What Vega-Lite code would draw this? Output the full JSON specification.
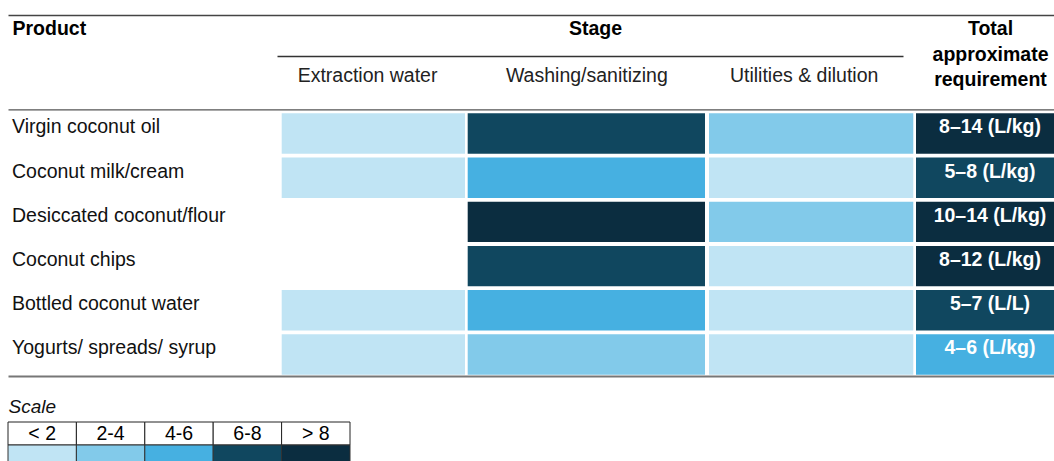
{
  "$schema": "https://vega.github.io/schema/vega-lite/v6.json",
  "width": 1047,
  "height": 446,
  "padding": {"left": 7, "top": 15, "right": 0, "bottom": 0},
  "background": "white",
  "config": {
    "view": {"stroke": null},
    "font": "Liberation Sans",
    "axis": {"ticks": false, "tickSize": 0, "grid": false, "domainColor": "#555", "domainWidth": 1.3}
  },
  "datasets": {
    "cells": [
      {"product": "Virgin coconut oil", "stage": "Extraction water", "level": "< 2"},
      {"product": "Virgin coconut oil", "stage": "Washing/sanitizing", "level": "6-8"},
      {"product": "Virgin coconut oil", "stage": "Utilities & dilution", "level": "2-4"},
      {"product": "Virgin coconut oil", "stage": "Total", "level": "> 8", "label": "8–14 (L/kg)"},
      {"product": "Coconut milk/cream", "stage": "Extraction water", "level": "< 2"},
      {"product": "Coconut milk/cream", "stage": "Washing/sanitizing", "level": "4-6"},
      {"product": "Coconut milk/cream", "stage": "Utilities & dilution", "level": "< 2"},
      {"product": "Coconut milk/cream", "stage": "Total", "level": "6-8", "label": "5–8 (L/kg)"},
      {"product": "Desiccated coconut/flour", "stage": "Washing/sanitizing", "level": "> 8"},
      {"product": "Desiccated coconut/flour", "stage": "Utilities & dilution", "level": "2-4"},
      {"product": "Desiccated coconut/flour", "stage": "Total", "level": "> 8", "label": "10–14 (L/kg)"},
      {"product": "Coconut chips", "stage": "Washing/sanitizing", "level": "6-8"},
      {"product": "Coconut chips", "stage": "Utilities & dilution", "level": "< 2"},
      {"product": "Coconut chips", "stage": "Total", "level": "> 8", "label": "8–12 (L/kg)"},
      {"product": "Bottled coconut water", "stage": "Extraction water", "level": "< 2"},
      {"product": "Bottled coconut water", "stage": "Washing/sanitizing", "level": "4-6"},
      {"product": "Bottled coconut water", "stage": "Utilities & dilution", "level": "< 2"},
      {"product": "Bottled coconut water", "stage": "Total", "level": "6-8", "label": "5–7 (L/L)"},
      {"product": "Yogurts/ spreads/ syrup", "stage": "Extraction water", "level": "< 2"},
      {"product": "Yogurts/ spreads/ syrup", "stage": "Washing/sanitizing", "level": "2-4"},
      {"product": "Yogurts/ spreads/ syrup", "stage": "Utilities & dilution", "level": "< 2"},
      {"product": "Yogurts/ spreads/ syrup", "stage": "Total", "level": "4-6", "label": "4–6 (L/kg)"}
    ],
    "levels": [
      {"level": "< 2"}, {"level": "2-4"}, {"level": "4-6"}, {"level": "6-8"}, {"level": "> 8"}
    ],
    "heads": [{"head": "h"}]
  },
  "layer": [
    {
      "data": {"name": "heads"},
      "mark": {"type": "rect", "opacity": 0},
      "encoding": {
        "x": {"field": "head", "type": "nominal", "scale": {"range": [1, 1048], "paddingInner": 0, "paddingOuter": 0},
          "axis": {"orient": "top", "offset": 0, "labels": false, "domainColor": "#444", "domainWidth": 1.3, "title": "Product", "titleX": 5, "titleY": 19.5, "titleAlign": "left", "titleBaseline": "alphabetic", "titleFontSize": 19.5, "titleFontWeight": "bold", "titleColor": "#000"}}
      }
    },
    {
      "data": {"name": "heads"},
      "mark": {"type": "rect", "opacity": 0},
      "encoding": {
        "x": {"field": "head", "type": "nominal", "scale": {"range": [270, 896], "paddingInner": 0, "paddingOuter": 0},
          "axis": {"orient": "top", "offset": -41, "labels": false, "domainColor": "#333", "domainWidth": 1.3, "title": "Stage", "titleX": 588, "titleY": -21.5, "titleAlign": "center", "titleBaseline": "alphabetic", "titleFontSize": 19.5, "titleFontWeight": "bold", "titleColor": "#000"}}
      }
    },
    {
      "data": {"name": "heads"},
      "mark": {"type": "rect", "opacity": 0},
      "encoding": {
        "x": {"field": "head", "type": "nominal", "scale": {"range": [1, 1048], "paddingInner": 0, "paddingOuter": 0},
          "axis": {"orient": "top", "offset": -94.3, "labels": false, "domainColor": "#555", "domainWidth": 1.3, "title": ["Total", "approximate", "requirement"], "titleX": 983, "titleY": -74.8, "titleAlign": "center", "titleBaseline": "alphabetic", "titleLineHeight": 25.5, "titleFontSize": 19.5, "titleFontWeight": "bold", "titleColor": "#000"}}
      }
    },
    {
      "data": {"name": "heads"},
      "mark": {"type": "rect", "opacity": 0},
      "encoding": {
        "x": {"field": "head", "type": "nominal", "scale": {"range": [1, 1048], "paddingInner": 0, "paddingOuter": 0},
          "axis": {"orient": "top", "offset": -361, "labels": false, "domainColor": "#777", "domainWidth": 2, "title": null}}
      }
    },
    {
      "data": {"name": "cells"},
      "transform": [{"filter": "datum.stage === 'Extraction water'"}],
      "mark": {"type": "rect"},
      "encoding": {
        "x": {"field": "stage", "type": "nominal", "scale": {"range": [274.7, 458], "paddingInner": 0, "paddingOuter": 0},
          "axis": {"orient": "top", "offset": -94.3, "domain": false, "labelPadding": 28, "labelOffset": -5.8, "labelBaseline": "alphabetic", "labelAngle": 0, "labelFontSize": 19.5, "labelColor": "#222", "title": null}},
        "y": {"field": "product", "type": "nominal",
          "scale": {"domain": ["Virgin coconut oil", "Coconut milk/cream", "Desiccated coconut/flour", "Coconut chips", "Bottled coconut water", "Yogurts/ spreads/ syrup"], "range": [94.3, 361], "paddingInner": 0.086, "paddingOuter": 0.06, "align": 0.75},
          "axis": {"orient": "left", "domain": false, "ticks": false, "labelAlign": "left", "labelPadding": -4.5, "labelBaseline": "alphabetic", "labelFontSize": 19.5, "labelColor": "#111", "labelLimit": 400, "labelOverlap": false, "title": null}},
        "color": {"field": "level", "type": "nominal", "scale": {"domain": ["< 2", "2-4", "4-6", "6-8", "> 8"], "range": ["#C0E4F4", "#82CAEA", "#46B0E1", "#10475F", "#0B2D40"]}, "legend": null}
      }
    },
    {
      "data": {"name": "cells"},
      "transform": [{"filter": "datum.stage === 'Washing/sanitizing'"}],
      "mark": {"type": "rect"},
      "encoding": {
        "x": {"field": "stage", "type": "nominal", "scale": {"range": [460.7, 698], "paddingInner": 0, "paddingOuter": 0},
          "axis": {"orient": "top", "offset": -94.3, "domain": false, "labelPadding": 28, "labelOffset": 0.5, "labelBaseline": "alphabetic", "labelAngle": 0, "labelFontSize": 19.5, "labelColor": "#222", "title": null}},
        "y": {"field": "product", "type": "nominal",
          "scale": {"domain": ["Virgin coconut oil", "Coconut milk/cream", "Desiccated coconut/flour", "Coconut chips", "Bottled coconut water", "Yogurts/ spreads/ syrup"], "range": [94.3, 361], "paddingInner": 0.086, "paddingOuter": 0.06, "align": 0.75},
          "axis": null},
        "color": {"field": "level", "type": "nominal", "scale": {"domain": ["< 2", "2-4", "4-6", "6-8", "> 8"], "range": ["#C0E4F4", "#82CAEA", "#46B0E1", "#10475F", "#0B2D40"]}, "legend": null}
      }
    },
    {
      "data": {"name": "cells"},
      "transform": [{"filter": "datum.stage === 'Utilities & dilution'"}],
      "mark": {"type": "rect"},
      "encoding": {
        "x": {"field": "stage", "type": "nominal", "scale": {"range": [702, 906.3], "paddingInner": 0, "paddingOuter": 0},
          "axis": {"orient": "top", "offset": -94.3, "domain": false, "labelPadding": 28, "labelOffset": -7, "labelBaseline": "alphabetic", "labelAngle": 0, "labelFontSize": 19.5, "labelColor": "#222", "title": null}},
        "y": {"field": "product", "type": "nominal",
          "scale": {"domain": ["Virgin coconut oil", "Coconut milk/cream", "Desiccated coconut/flour", "Coconut chips", "Bottled coconut water", "Yogurts/ spreads/ syrup"], "range": [94.3, 361], "paddingInner": 0.086, "paddingOuter": 0.06, "align": 0.75},
          "axis": null},
        "color": {"field": "level", "type": "nominal", "scale": {"domain": ["< 2", "2-4", "4-6", "6-8", "> 8"], "range": ["#C0E4F4", "#82CAEA", "#46B0E1", "#10475F", "#0B2D40"]}, "legend": null}
      }
    },
    {
      "data": {"name": "cells"},
      "transform": [{"filter": "datum.stage === 'Total'"}],
      "mark": {"type": "rect"},
      "encoding": {
        "x": {"field": "stage", "type": "nominal", "scale": {"range": [909, 1057], "paddingInner": 0, "paddingOuter": 0}, "axis": null},
        "y": {"field": "product", "type": "nominal",
          "scale": {"domain": ["Virgin coconut oil", "Coconut milk/cream", "Desiccated coconut/flour", "Coconut chips", "Bottled coconut water", "Yogurts/ spreads/ syrup"], "range": [94.3, 361], "paddingInner": 0.086, "paddingOuter": 0.06, "align": 0.75},
          "axis": null},
        "color": {"field": "level", "type": "nominal", "scale": {"domain": ["< 2", "2-4", "4-6", "6-8", "> 8"], "range": ["#C0E4F4", "#82CAEA", "#46B0E1", "#10475F", "#0B2D40"]}, "legend": null}
      }
    },
    {
      "data": {"name": "cells"},
      "transform": [{"filter": "datum.stage === 'Total'"}],
      "mark": {"type": "text", "color": "white", "fontWeight": "bold", "fontSize": 19.5, "baseline": "alphabetic", "align": "center"},
      "encoding": {
        "x": {"field": "stage", "type": "nominal", "scale": {"type": "band", "range": [909, 1057], "paddingInner": 0, "paddingOuter": 0}, "axis": null},
        "y": {"field": "product", "type": "nominal",
          "scale": {"type": "band", "domain": ["Virgin coconut oil", "Coconut milk/cream", "Desiccated coconut/flour", "Coconut chips", "Bottled coconut water", "Yogurts/ spreads/ syrup"], "range": [94.3, 361], "paddingInner": 0.086, "paddingOuter": 0.06, "align": 0.75},
          "axis": null},
        "text": {"field": "label"}
      }
    },
    {
      "data": {"name": "levels"},
      "mark": {"type": "rect", "fill": "white", "stroke": "#222", "strokeWidth": 1},
      "encoding": {
        "x": {"field": "level", "type": "nominal", "scale": {"domain": ["< 2", "2-4", "4-6", "6-8", "> 8"], "range": [1, 343], "paddingInner": 0, "paddingOuter": 0},
          "axis": {"orient": "top", "offset": -407, "domain": false, "labels": false, "title": "Scale", "titleX": 1, "titleY": -9.5, "titleAlign": "left", "titleBaseline": "alphabetic", "titleFontSize": 19, "titleFontStyle": "italic", "titleFontWeight": "normal", "titleColor": "#111"}},
        "y": {"datum": "hdr", "type": "nominal", "scale": {"domain": ["hdr", "col"], "range": [407, 453], "paddingInner": 0, "paddingOuter": 0}, "axis": null}
      }
    },
    {
      "data": {"name": "levels"},
      "mark": {"type": "text", "fontSize": 19.5, "baseline": "middle", "color": "#000"},
      "encoding": {
        "x": {"field": "level", "type": "nominal", "scale": {"type": "band", "domain": ["< 2", "2-4", "4-6", "6-8", "> 8"], "range": [1, 343], "paddingInner": 0, "paddingOuter": 0}, "axis": null},
        "y": {"datum": "hdr", "type": "nominal", "scale": {"type": "band", "domain": ["hdr", "col"], "range": [407, 453], "paddingInner": 0, "paddingOuter": 0}, "axis": null},
        "text": {"field": "level"}
      }
    },
    {
      "data": {"name": "levels"},
      "mark": {"type": "rect", "stroke": "#333", "strokeWidth": 1},
      "encoding": {
        "x": {"field": "level", "type": "nominal", "scale": {"domain": ["< 2", "2-4", "4-6", "6-8", "> 8"], "range": [1, 343], "paddingInner": 0, "paddingOuter": 0}, "axis": null},
        "y": {"datum": "col", "type": "nominal", "scale": {"domain": ["hdr", "col"], "range": [407, 453], "paddingInner": 0, "paddingOuter": 0}, "axis": null},
        "color": {"field": "level", "type": "nominal", "scale": {"domain": ["< 2", "2-4", "4-6", "6-8", "> 8"], "range": ["#C0E4F4", "#82CAEA", "#46B0E1", "#10475F", "#0B2D40"]}, "legend": null}
      }
    }
  ],
  "resolve": {"scale": {"x": "independent", "y": "independent"}, "axis": {"x": "independent", "y": "independent"}}
}
